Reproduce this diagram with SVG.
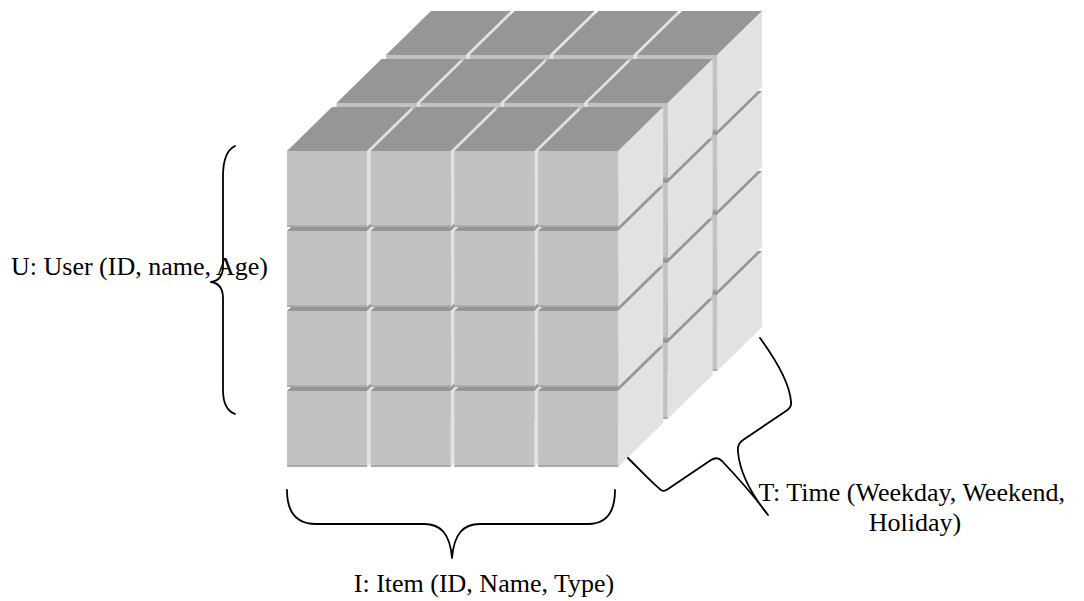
<svg xmlns="http://www.w3.org/2000/svg" xmlns:xlink="http://www.w3.org/1999/xlink" width="1084" height="601" viewBox="0 0 1084 601">
  <style>
    .top { fill: #969696; }
    .side { fill: #e2e2e2; }
    .front { fill: #c2c2c2; }
    .shade { fill: #ababab; }
    .brace { fill: none; stroke: #000; stroke-width: 1.8; stroke-linecap: round; stroke-linejoin: round; }
    .label { font-family: "Liberation Serif", "Times New Roman", serif; font-size: 26px; fill: #000; }
  </style>
  <defs>
    <!-- one unit block; origin is the top-left corner of its front face -->
    <g id="box">
      <polygon class="top" points="0,0 80,0 125,-44 45,-44"/>
      <polygon class="side" points="80,0 125,-44 125,32 80,76"/>
      <rect class="front" width="80" height="76"/>
      <rect class="shade" y="74" width="80" height="2"/>
    </g>
  </defs>

  <rect width="1084" height="601" fill="#fff"/>

  <!-- 4 x 4 x 3 data cube, painted back layer first, bottom row first, left to right -->
  <g id="cube">
    <g id="layer-back">
      <use xlink:href="#box" x="386" y="295"/><use xlink:href="#box" x="469.7" y="295"/><use xlink:href="#box" x="553.4" y="295"/><use xlink:href="#box" x="637.1" y="295"/>
      <use xlink:href="#box" x="386" y="215"/><use xlink:href="#box" x="469.7" y="215"/><use xlink:href="#box" x="553.4" y="215"/><use xlink:href="#box" x="637.1" y="215"/>
      <use xlink:href="#box" x="386" y="135"/><use xlink:href="#box" x="469.7" y="135"/><use xlink:href="#box" x="553.4" y="135"/><use xlink:href="#box" x="637.1" y="135"/>
      <use xlink:href="#box" x="386" y="55"/><use xlink:href="#box" x="469.7" y="55"/><use xlink:href="#box" x="553.4" y="55"/><use xlink:href="#box" x="637.1" y="55"/>
    </g>
    <g id="layer-middle">
      <use xlink:href="#box" x="336.5" y="343"/><use xlink:href="#box" x="420.2" y="343"/><use xlink:href="#box" x="503.9" y="343"/><use xlink:href="#box" x="587.6" y="343"/>
      <use xlink:href="#box" x="336.5" y="263"/><use xlink:href="#box" x="420.2" y="263"/><use xlink:href="#box" x="503.9" y="263"/><use xlink:href="#box" x="587.6" y="263"/>
      <use xlink:href="#box" x="336.5" y="183"/><use xlink:href="#box" x="420.2" y="183"/><use xlink:href="#box" x="503.9" y="183"/><use xlink:href="#box" x="587.6" y="183"/>
      <use xlink:href="#box" x="336.5" y="103"/><use xlink:href="#box" x="420.2" y="103"/><use xlink:href="#box" x="503.9" y="103"/><use xlink:href="#box" x="587.6" y="103"/>
    </g>
    <g id="layer-front">
      <use xlink:href="#box" x="287" y="391"/><use xlink:href="#box" x="370.7" y="391"/><use xlink:href="#box" x="454.4" y="391"/><use xlink:href="#box" x="538.1" y="391"/>
      <use xlink:href="#box" x="287" y="311"/><use xlink:href="#box" x="370.7" y="311"/><use xlink:href="#box" x="454.4" y="311"/><use xlink:href="#box" x="538.1" y="311"/>
      <use xlink:href="#box" x="287" y="231"/><use xlink:href="#box" x="370.7" y="231"/><use xlink:href="#box" x="454.4" y="231"/><use xlink:href="#box" x="538.1" y="231"/>
      <use xlink:href="#box" x="287" y="151"/><use xlink:href="#box" x="370.7" y="151"/><use xlink:href="#box" x="454.4" y="151"/><use xlink:href="#box" x="538.1" y="151"/>
    </g>
  </g>

  <!-- dimension braces -->
  <g id="braces">
    <path id="brace-user" class="brace" d="M 235,146 C 227,150 223,160 223,176 L 223,266 C 223,276 218,281 211,282 C 218,283 223,288 223,298 L 223,390 C 223,404 227,411 235,414"/>
    <path id="brace-item" class="brace" d="M 287,490 C 287,512 296,524 316,524 L 424,524 C 441,524 450,534 452,558 C 454,534 463,524 480,524 L 588,524 C 606,524 615,512 615,490"/>
    <path id="brace-time" class="brace" d="M 628,458 C 640,470 652,483 661,490 Q 664,492 668,489 L 711,460 Q 717,456 722,461 C 740,480 755,497 768,515 C 752,495 740,475 738,452 Q 737,444 743,440 L 786,411 Q 792,407 791,402 C 790,385 776,360 760,338"/>
  </g>

  <!-- axis labels -->
  <g id="labels">
    <text id="label-user" class="label" x="11" y="275">U: User (ID, name, Age)</text>
    <text id="label-item" class="label" x="484" y="592" text-anchor="middle">I: Item (ID, Name, Type)</text>
    <text id="label-time" class="label" text-anchor="middle">
      <tspan x="915" y="501">T: Time (Weekday, Weekend,</tspan>
      <tspan x="915" y="531">Holiday)</tspan>
    </text>
  </g>
</svg>
